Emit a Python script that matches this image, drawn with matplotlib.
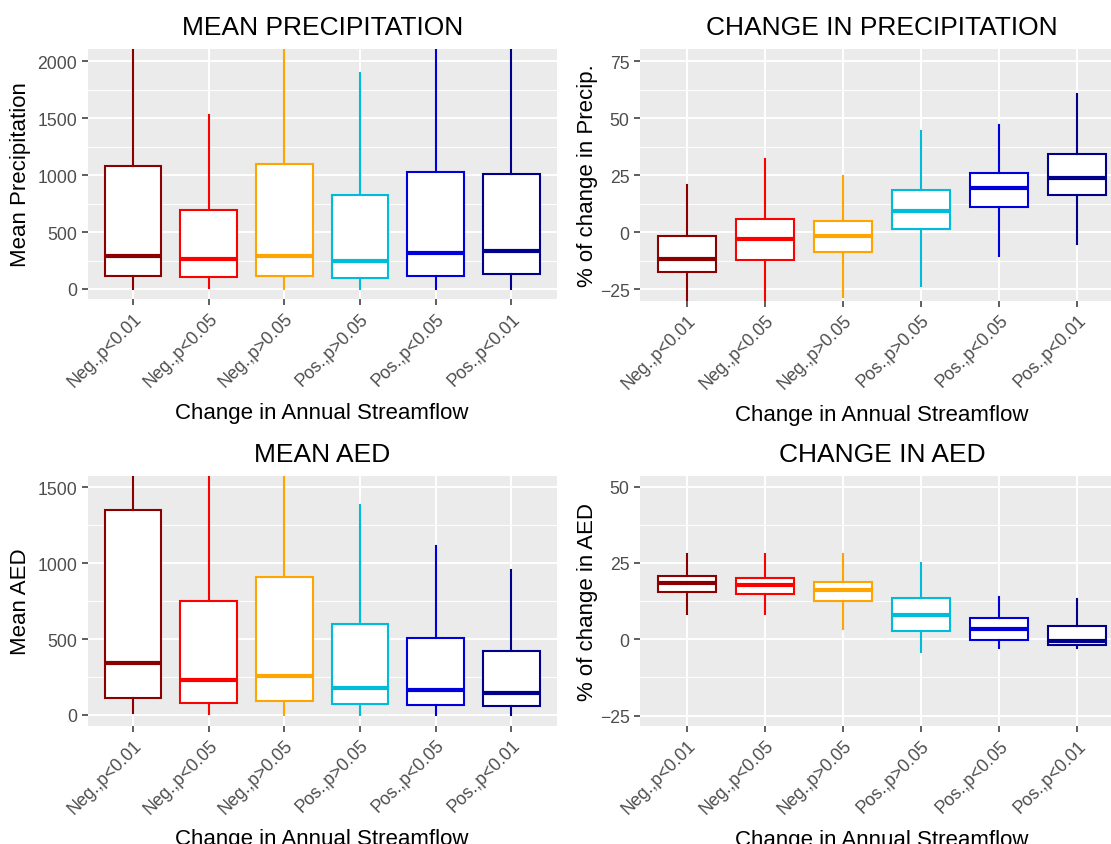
import matplotlib
matplotlib.use('Agg')
import matplotlib.pyplot as plt
from matplotlib.ticker import MultipleLocator

plt.rcParams['font.family'] = ['Liberation Sans', 'DejaVu Sans']

categories = ["Neg.,p<0.01", "Neg.,p<0.05", "Neg.,p>0.05",
              "Pos.,p>0.05", "Pos.,p<0.05", "Pos.,p<0.01"]
colors = ['#8B0000', '#FF0000', '#FFA500', '#00BCDB', '#0000DD', '#00008B']

# Mean precipitation
precip_low = [0, 5, 0, 0, 0, 0]
precip_q1 = [111, 108, 111, 99, 117, 132]
precip_med = [292, 263, 289, 249, 316, 333]
precip_q3 = [1079, 693, 1099, 827, 1026, 1006]
precip_high = [2600, 1526, 2700, 1900, 2500, 2500]

# Change in precipitation (%)
dprecip_low = [-40, -40, -28.4, -23.7, -10.5, -5.0]
dprecip_q1 = [-17.6, -12.1, -8.8, 1.2, 11.0, 16.4]
dprecip_med = [-11.7, -2.9, -1.7, 9.1, 19.3, 23.7]
dprecip_q3 = [-1.9, 5.6, 4.7, 18.6, 25.8, 34.4]
dprecip_high = [20.9, 32.2, 24.6, 44.4, 46.9, 60.8]

# Mean AED
aed_low = [13, 4, 0, 0, 3, 0]
aed_q1 = [114, 77, 92, 70, 64, 59]
aed_med = [340, 228, 255, 178, 162, 145]
aed_q3 = [1352, 751, 907, 599, 505, 422]
aed_high = [2000, 1900, 2000, 1383, 1113, 955]

# Change in AED (%)
daed_low = [8.4, 8.2, 3.5, -4.2, -2.7, -3.0]
daed_q1 = [15.6, 14.7, 12.4, 2.7, -0.2, -2.0]
daed_med = [18.6, 17.8, 16.2, 8.0, 3.3, -0.4]
daed_q3 = [20.7, 20.1, 18.9, 13.4, 6.9, 4.5]
daed_high = [27.8, 28.1, 27.8, 25.1, 14.0, 13.1]

W, H = 1111, 845
fig = plt.figure(figsize=(W / 100, H / 100), dpi=100)


def px_axes(x0, y0, x1, y1):
    return fig.add_axes([x0 / W, (H - y1) / H, (x1 - x0) / W, (y1 - y0) / H])


def panel(ax, low, q1, med, q3, high, ylim, major, title, ylabel, ylab_x):
    ax.set_facecolor('#EBEBEB')
    for s in ax.spines.values():
        s.set_visible(False)
    ax.set_xlim(0.4, 6.6)
    ax.set_ylim(*ylim)
    ax.yaxis.set_major_locator(MultipleLocator(major))
    ax.yaxis.set_minor_locator(MultipleLocator(major / 2))
    ax.grid(which='major', color='white', linewidth=1.4)
    ax.grid(which='minor', axis='y', color='white', linewidth=0.7)
    ax.set_axisbelow(True)
    for i in range(len(categories)):
        st = [dict(whislo=low[i], q1=q1[i], med=med[i], q3=q3[i],
                   whishi=high[i], fliers=[])]
        c = colors[i]
        ax.bxp(st, positions=[i + 1], widths=0.75, patch_artist=True,
               showcaps=False, showfliers=False, manage_ticks=False,
               boxprops=dict(facecolor='white', edgecolor=c, linewidth=1.5),
               whiskerprops=dict(color=c, linewidth=1.5),
               medianprops=dict(color=c, linewidth=3.0, solid_capstyle='butt'))
    ax.set_xticks(range(1, len(categories) + 1))
    ax.set_xticklabels(categories, rotation=45, ha='right', va='top',
                       rotation_mode='anchor', fontsize=12.7, color='#4D4D4D')
    ax.tick_params(axis='both', which='major', length=4, width=1.1,
                   color='#333333', labelsize=12.7, labelcolor='#4D4D4D', pad=3.5)
    ax.tick_params(axis='y', which='minor', length=0)
    ax.set_title(title, fontsize=19, pad=10.8, color='black')
    ax.set_xlabel('Change in Annual Streamflow', fontsize=16, va='center')
    ax.xaxis.set_label_coords(0.5, -0.453)
    ax.set_ylabel(ylabel, fontsize=16, va='center')
    ax.yaxis.set_label_coords(ylab_x, 0.5)


ax1 = px_axes(87.5, 50, 556.8, 300)
panel(ax1, precip_low, precip_q1, precip_med, precip_q3, precip_high,
      (-88, 2108), 500, 'MEAN PRECIPITATION', 'Mean Precipitation', -0.1422)

ax2 = px_axes(640, 50, 1124, 301.7)
panel(ax2, dprecip_low, dprecip_q1, dprecip_med, dprecip_q3, dprecip_high,
      (-30.1, 80.4), 25, 'CHANGE IN PRECIPITATION', '% of change in Precip.', -0.1085)

ax3 = px_axes(87.5, 476.7, 556.8, 726.7)
panel(ax3, aed_low, aed_q1, aed_med, aed_q3, aed_high,
      (-70.5, 1576), 500, 'MEAN AED', 'Mean AED', -0.1422)

ax4 = px_axes(640, 476.7, 1124, 727.3)
panel(ax4, daed_low, daed_q1, daed_med, daed_q3, daed_high,
      (-28.5, 53.6), 25, 'CHANGE IN AED', '% of change in AED', -0.1085)

fig.savefig('out.png', dpi=100, facecolor='white')
